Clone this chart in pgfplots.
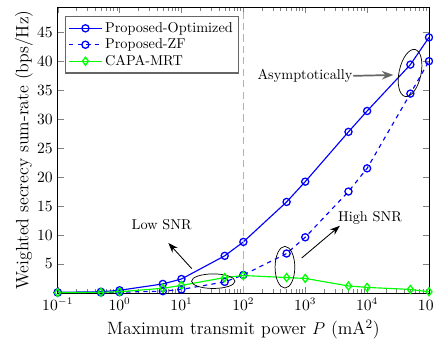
\documentclass[border=0pt]{standalone}
\usepackage{pgfplots}
\pgfplotsset{compat=1.18}
\usetikzlibrary{arrows.meta}
\begin{document}
\begin{tikzpicture}
\begin{axis}[
  name=ax,
  scale only axis,
  width=260pt, height=200pt,
  xmode=log,
  xmin=0.1, xmax=100000,
  ymin=0, ymax=49.3,
  ytick={5,10,...,45},
  xtick={0.1,1,10,100,1000,10000,100000},
  tick align=inside,
  tick pos=both,
  axis line style={black, line width=0.5pt},
  tick label style={font=\fontsize{10.5}{12}\selectfont},
  label style={font=\fontsize{12.5}{15}\selectfont},
  xlabel={Maximum transmit power $P$ (mA$^2$)},
  ylabel={Weighted secrecy sum-rate (bps/Hz)},
  ylabel style={yshift=-4pt},
  xlabel style={yshift=0pt},
  legend style={at={(0.02,0.97)}, anchor=north west, draw=black!60, line width=0.9pt, font=\normalsize, row sep=-1pt, inner sep=2pt},
  legend cell align=left,
  legend image code/.code={\draw[mark repeat=2,mark phase=2] plot coordinates {(0cm,0cm) (0.4cm,0cm) (0.8cm,0cm)};},
  clip=false,
]
\addplot[blue, line width=0.8pt, mark=o, mark size=2.5pt, mark options={solid, line width=0.9pt}] coordinates {
(0.1,0.1) (0.5,0.2) (1,0.45) (5,1.55) (10,2.4) (50,6.4) (100,8.8) (500,15.7) (1000,19.2) (5000,27.8) (10000,31.4) (50000,39.4) (100000,44.1)};
\addlegendentry{Proposed-Optimized}
\addplot[blue, line width=0.8pt, dashed, mark=o, mark size=2.5pt, mark options={solid, line width=0.9pt}] coordinates {
(0.1,0.05) (0.5,0.07) (1,0.12) (5,0.3) (10,0.6) (50,1.9) (100,3.1) (500,6.8) (1000,9.6) (5000,17.5) (10000,21.5) (50000,34.4) (100000,40.0)};
\addlegendentry{Proposed-ZF}
\addplot[green, line width=0.8pt, mark=diamond, mark size=2.8pt, mark options={solid, line width=0.9pt}] coordinates {
(0.1,0.05) (0.5,0.1) (1,0.2) (5,0.8) (10,1.3) (50,2.65) (100,3.0) (500,2.65) (1000,2.5) (5000,1.2) (10000,0.95) (50000,0.6) (100000,0.2)};
\addlegendentry{CAPA-MRT}
\draw[black!30, dash pattern=on 5pt off 3pt, line width=0.8pt] (axis cs:100,0) -- (axis cs:100,49.3);
% annotations
\node at (rel axis cs:0.280,0.239) {Low SNR};
\draw[-{Stealth[length=7pt,width=5pt]}, line width=0.6pt] (rel axis cs:0.361,0.085) -- (rel axis cs:0.298,0.175);
\draw[line width=0.5pt] (rel axis cs:0.419,0.041) ellipse [x radius=15.2pt, y radius=5.1pt];
\node at (rel axis cs:0.841,0.262) {High SNR};
\draw[-{Stealth[length=7pt,width=5pt]}, line width=0.6pt] (rel axis cs:0.657,0.122) -- (rel axis cs:0.760,0.235);
\draw[line width=0.5pt] (rel axis cs:0.612,0.090) ellipse [x radius=6.9pt, y radius=14.6pt];
\node at (rel axis cs:0.666,0.760) {Asymptotically};
\draw[black!60, line width=1.2pt, -{Stealth[length=8pt,width=6pt,fill=black]}] (rel axis cs:0.796,0.760) -- (rel axis cs:0.904,0.763);
\draw[line width=0.5pt, rotate around={-12:(rel axis cs:0.949,0.770)}] (rel axis cs:0.949,0.770) ellipse [x radius=7.7pt, y radius=16.8pt];
\end{axis}
\pgfresetboundingbox
\path ([xshift=-40.4pt,yshift=-32pt]ax.south west) rectangle ([xshift=2.8pt,yshift=5.1pt]ax.north east);
\end{tikzpicture}
\end{document}
